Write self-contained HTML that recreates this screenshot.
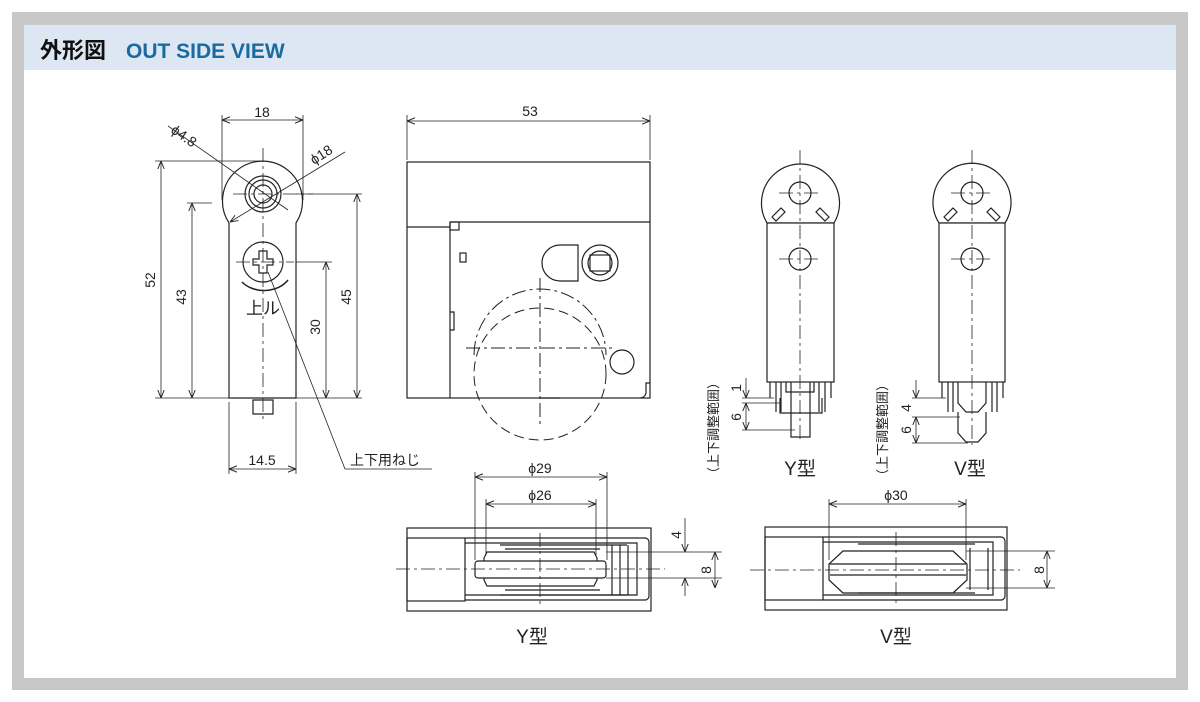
<!DOCTYPE html>
<html><head><meta charset="utf-8"><style>
html,body{margin:0;padding:0;background:#fff;}
svg{display:block}
text{font-family:"Liberation Sans","Noto Sans CJK JP",sans-serif;fill:#222}
</style></head><body>
<svg width="1200" height="702" viewBox="0 0 1200 702" xmlns="http://www.w3.org/2000/svg">
<defs>
<marker id="a" viewBox="0 0 10 10" refX="10" refY="5" markerWidth="8" markerHeight="8" orient="auto-start-reverse" markerUnits="userSpaceOnUse"><path d="M0,1 L10,5 L0,9" fill="none" stroke="#222" stroke-width="1.2"/></marker>
</defs>
<rect x="0" y="0" width="1200" height="702" fill="#fff"/>
<rect x="12" y="12" width="1176" height="678" fill="#c8c8c8"/>
<rect x="24" y="25" width="1152" height="653" fill="#fff"/>
<rect x="24" y="25" width="1152" height="45" fill="#dde7f4"/>
<text x="40" y="58" font-size="22" font-weight="bold" fill="#111" style="fill:#111">外形図</text>
<text x="126" y="58" font-size="21" font-weight="bold" style="fill:#1a6aa0">OUT SIDE VIEW</text>

<g stroke="#222" stroke-width="1.2" fill="none">
<!-- LEFT VIEW -->
<path d="M229,223 A40,40 0 1 1 296,223 L296,398 L229,398 Z" fill="#fff"/>
<circle cx="263" cy="194" r="18"/><circle cx="263" cy="194" r="14"/><circle cx="263" cy="194" r="9"/>
<circle cx="263" cy="262" r="20"/>
<path d="M253,259 h6 v-8 h8 v8 h6 v6 h-6 v8 h-8 v-8 h-6 z"/>
<path d="M242,282 A28,22 0 0 0 288,280" stroke-width="1.5"/>
<path d="M253,400 h20 v14 h-20 z"/>
<g stroke-width="0.8" stroke-dasharray="14,4,3,4">
<line x1="263" y1="148" x2="263" y2="420"/>
<line x1="233" y1="194" x2="313" y2="194"/>
<line x1="236" y1="262" x2="294" y2="262"/>
</g>
<g stroke-width="0.8">
<line x1="222" y1="115" x2="222" y2="200"/><line x1="303" y1="115" x2="303" y2="200"/>
<line x1="222" y1="120" x2="303" y2="120" marker-start="url(#a)" marker-end="url(#a)"/>
<line x1="155" y1="161" x2="262" y2="161"/>
<line x1="187" y1="203" x2="212" y2="203"/>
<line x1="296" y1="194" x2="362" y2="194"/>
<line x1="296" y1="262" x2="332" y2="262"/>
<line x1="155" y1="398" x2="362" y2="398"/>
<line x1="161" y1="161" x2="161" y2="398" marker-start="url(#a)" marker-end="url(#a)"/>
<line x1="192" y1="203" x2="192" y2="398" marker-start="url(#a)" marker-end="url(#a)"/>
<line x1="357" y1="194" x2="357" y2="398" marker-start="url(#a)" marker-end="url(#a)"/>
<line x1="326" y1="262" x2="326" y2="398" marker-start="url(#a)" marker-end="url(#a)"/>
<line x1="229" y1="402" x2="229" y2="474"/><line x1="296" y1="402" x2="296" y2="474"/>
<line x1="229" y1="469" x2="296" y2="469" marker-start="url(#a)" marker-end="url(#a)"/>
<line x1="168" y1="126" x2="288" y2="210"/>
<line x1="345" y1="152" x2="230" y2="222" marker-end="url(#a)"/>
<polyline points="268,272 345,469 432,469"/>
</g>

<!-- MIDDLE VIEW -->
<rect x="407" y="162" width="243" height="236" fill="#fff"/>
<path d="M407,227 H450 M450,222 H650 M450,222 V398"/>
<rect x="450" y="222" width="9" height="8"/>
<rect x="460" y="253" width="6" height="9"/>
<path d="M450,312 h4 v18 h-4"/>
<path d="M578,245 H560 A18,18 0 0 0 560,281 H578 Z"/>
<circle cx="600" cy="263" r="18"/><circle cx="600" cy="263" r="12"/>
<rect x="590" y="255" width="20" height="16"/>
<circle cx="622" cy="362" r="12"/>
<path d="M650,383 h-4 v8 a6,6 0 0 1 -6,7"/>
<path d="M540,398 h20" />
<g stroke-width="1" stroke-dasharray="10,5">
<circle cx="540" cy="374" r="66"/>
</g>
<g stroke-width="1" stroke-dasharray="14,4,3,4">
<path d="M474,355 A66,66 0 0 1 606,355"/>
<line x1="466" y1="348" x2="612" y2="348"/>
<line x1="540" y1="278" x2="540" y2="425"/>
</g>
<g stroke-width="0.8">
<line x1="407" y1="115" x2="407" y2="160"/><line x1="650" y1="115" x2="650" y2="160"/>
<line x1="407" y1="121" x2="650" y2="121" marker-start="url(#a)" marker-end="url(#a)"/>
</g>

<!-- Y TYPE RIGHT -->
<path d="M767,223 A39,39 0 1 1 834,223 Z" fill="#fff"/>
<rect x="767" y="223" width="67" height="159" fill="#fff"/>
<circle cx="800" cy="193" r="11"/><circle cx="800" cy="259" r="11"/>
<path d="M772,217 l9,-9 l4,4 l-9,9 z M829,217 l-9,-9 l-4,4 l9,9 z"/>
<path d="M770,382 v16 M776,382 v30 M781,382 v30 M819,382 v30 M825,382 v30 M831,382 v16"/>
<path d="M786,382 v10 h28 v-10 M791,382 v55 h19 v-55 M780,398 v15 h42 v-15"/>
<g stroke-width="0.8" stroke-dasharray="14,4,3,4">
<line x1="800" y1="150" x2="800" y2="440"/>
<line x1="779" y1="193" x2="821" y2="193"/><line x1="779" y1="259" x2="821" y2="259"/>
</g>
<g stroke-width="0.8">
<line x1="742" y1="398" x2="774" y2="398"/>
<line x1="742" y1="403" x2="780" y2="403"/>
<line x1="742" y1="430" x2="795" y2="430"/>
<line x1="746" y1="378" x2="746" y2="398" marker-end="url(#a)"/>
<line x1="746" y1="403" x2="746" y2="430" marker-start="url(#a)" marker-end="url(#a)"/>
</g>

<!-- V TYPE RIGHT -->
<path d="M939,223 A39,39 0 1 1 1005,223 Z" fill="#fff"/>
<rect x="939" y="223" width="66" height="159" fill="#fff"/>
<circle cx="972" cy="193" r="11"/><circle cx="972" cy="259" r="11"/>
<path d="M944,217 l9,-9 l4,4 l-9,9 z M1000,217 l-9,-9 l-4,4 l9,9 z"/>
<path d="M942,382 v16 M948,382 v30 M953,382 v30 M992,382 v30 M997,382 v30 M1003,382 v16"/>
<path d="M958,382 v21 l8,9 h12 l8,-9 v-21 M958,412 v21 l8,9 h12 l8,-9 v-21"/>
<g stroke-width="0.8" stroke-dasharray="14,4,3,4">
<line x1="972" y1="150" x2="972" y2="445"/>
<line x1="951" y1="193" x2="993" y2="193"/><line x1="951" y1="259" x2="993" y2="259"/>
</g>
<g stroke-width="0.8">
<line x1="912" y1="398" x2="946" y2="398"/>
<line x1="912" y1="417" x2="960" y2="417"/>
<line x1="912" y1="443" x2="968" y2="443"/>
<line x1="916" y1="380" x2="916" y2="398" marker-end="url(#a)"/>
<line x1="916" y1="417" x2="916" y2="443" marker-start="url(#a)" marker-end="url(#a)"/>
</g>

<!-- Y BOTTOM -->
<rect x="407" y="528" width="244" height="83" fill="#fff"/>
<rect x="407" y="538" width="58" height="63"/>
<path d="M465,538 H645 a4,4 0 0 1 4,4 V596 a4,4 0 0 1 -4,4 H465 M465,543 H637 V595 H465"/>
<path d="M500,545 H627 M500,595 H627 M505,549 H600 M505,590 H600"/>
<path d="M487,552 H594 l3,6 V580 l-3,6 H487 l-3,-6 V558 z"/>
<rect x="475" y="561" width="131" height="17" rx="3" fill="#fff"/>
<path d="M612,545 V595 M620,545 V595 M628,545 V595"/>
<g stroke-width="0.8" stroke-dasharray="14,4,3,4">
<line x1="396" y1="569" x2="665" y2="569"/>
<line x1="540" y1="533" x2="540" y2="606"/>
</g>
<g stroke-width="0.8">
<line x1="475" y1="472" x2="475" y2="560"/><line x1="607" y1="472" x2="607" y2="560"/>
<line x1="475" y1="477" x2="607" y2="477" marker-start="url(#a)" marker-end="url(#a)"/>
<line x1="486" y1="499" x2="486" y2="555"/><line x1="596" y1="499" x2="596" y2="555"/>
<line x1="486" y1="504" x2="596" y2="504" marker-start="url(#a)" marker-end="url(#a)"/>
<line x1="606" y1="552" x2="722" y2="552"/><line x1="606" y1="578" x2="722" y2="578"/>
<line x1="685" y1="518" x2="685" y2="552" marker-end="url(#a)"/>
<line x1="685" y1="578" x2="685" y2="596" marker-start="url(#a)"/>
<line x1="715" y1="552" x2="715" y2="588" marker-start="url(#a)" marker-end="url(#a)"/>
</g>

<!-- V BOTTOM -->
<rect x="765" y="527" width="242" height="83" fill="#fff"/>
<rect x="765" y="537" width="58" height="63"/>
<path d="M823,537 H1001 a4,4 0 0 1 4,4 V596 a4,4 0 0 1 -4,4 H823 M823,542 H993 V595 H823"/>
<path d="M858,544 H975 M858,593 H975"/>
<path d="M843,551 H953 l14,13 V580 l-14,13 H843 l-14,-13 V564 z"/>
<path d="M830,564 H966 M830,575 H966"/>
<path d="M970,548 V590 M988,548 V590"/>
<g stroke-width="0.8" stroke-dasharray="14,4,3,4">
<line x1="750" y1="570" x2="1020" y2="570"/>
<line x1="896" y1="532" x2="896" y2="605"/>
</g>
<g stroke-width="0.8">
<line x1="829" y1="499" x2="829" y2="560"/><line x1="966" y1="499" x2="966" y2="560"/>
<line x1="829" y1="504" x2="966" y2="504" marker-start="url(#a)" marker-end="url(#a)"/>
<line x1="966" y1="551" x2="1055" y2="551"/><line x1="966" y1="588" x2="1055" y2="588"/>
<line x1="1047" y1="551" x2="1047" y2="588" marker-start="url(#a)" marker-end="url(#a)"/>
</g>
</g>

<!-- TEXT -->
<g font-size="14">
<text x="262" y="117" text-anchor="middle">18</text>
<text x="530" y="116" text-anchor="middle">53</text>
<text x="0" y="0" transform="translate(170,132) rotate(35)">ϕ4.8</text>
<text x="0" y="0" transform="translate(314,165) rotate(-33)">ϕ18</text>
<text transform="translate(155,280) rotate(-90)" text-anchor="middle">52</text>
<text transform="translate(186,297) rotate(-90)" text-anchor="middle">43</text>
<text transform="translate(351,297) rotate(-90)" text-anchor="middle">45</text>
<text transform="translate(320,327) rotate(-90)" text-anchor="middle">30</text>
<text x="263" y="314" text-anchor="middle" font-size="17">上ル</text>
<text x="262" y="465" text-anchor="middle">14.5</text>
<text x="350" y="465">上下用ねじ</text>
<text x="540" y="473" text-anchor="middle">ϕ29</text>
<text x="540" y="500" text-anchor="middle">ϕ26</text>
<text x="896" y="500" text-anchor="middle">ϕ30</text>
<text transform="translate(681,535) rotate(-90)" text-anchor="middle">4</text>
<text transform="translate(711,570) rotate(-90)" text-anchor="middle">8</text>
<text transform="translate(1044,570) rotate(-90)" text-anchor="middle">8</text>
<text transform="translate(741,388) rotate(-90)" text-anchor="middle">1</text>
<text transform="translate(741,417) rotate(-90)" text-anchor="middle">6</text>
<text transform="translate(911,408) rotate(-90)" text-anchor="middle">4</text>
<text transform="translate(911,430) rotate(-90)" text-anchor="middle">6</text>
<text transform="translate(718,428) rotate(-90)" text-anchor="middle" font-size="13">（上下調整範囲）</text>
<text transform="translate(887,430) rotate(-90)" text-anchor="middle" font-size="13">（上下調整範囲）</text>
<text x="800" y="475" text-anchor="middle" font-size="19">Y型</text>
<text x="970" y="475" text-anchor="middle" font-size="19">V型</text>
<text x="532" y="643" text-anchor="middle" font-size="19">Y型</text>
<text x="896" y="643" text-anchor="middle" font-size="19">V型</text>
</g>
</svg>
</body></html>
